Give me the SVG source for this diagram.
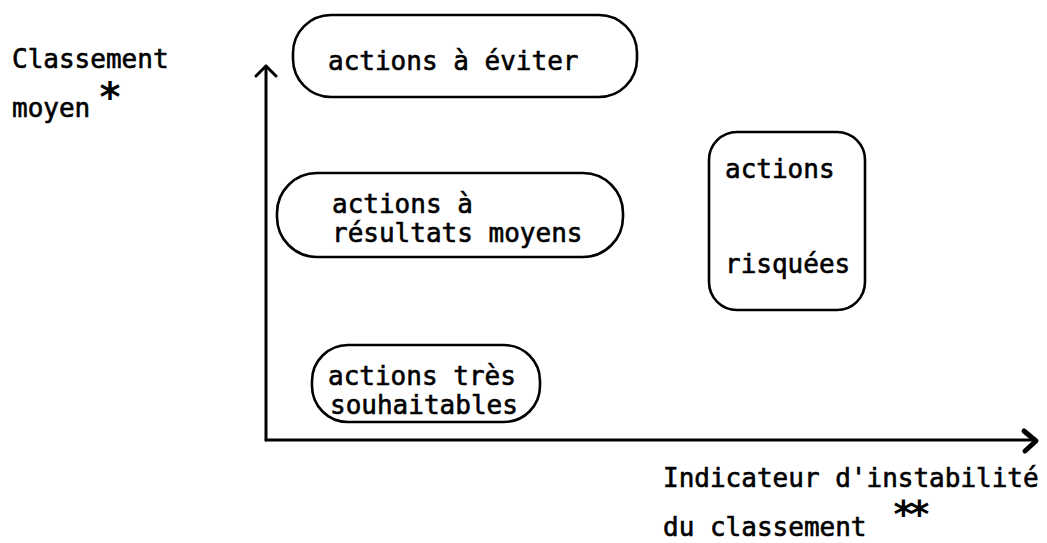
<svg xmlns="http://www.w3.org/2000/svg" width="1047" height="543" viewBox="0 0 1047 543">
  <style>
    .t { font-family: "DejaVu Sans Mono", "Liberation Mono", monospace; font-size: 26px; fill: #000; stroke: #000; stroke-width: 0.6; }
    .star { font-family: "DejaVu Sans Mono", "Liberation Mono", monospace; font-weight: bold; fill: #000; }
    .box { fill: none; stroke: #000; stroke-width: 2.6; }
    .axis { fill: none; stroke: #000; stroke-width: 3; stroke-linecap: round; stroke-linejoin: round; }
  </style>
  <rect width="1047" height="543" fill="#fff"/>

  <!-- axes -->
  <g id="connectors">
    <path class="axis" d="M266 440 V66"/>
    <path class="axis" d="M256 76 L266 66 L276 76"/>
    <path class="axis" d="M266 440 H1034"/>
    <path class="axis" style="stroke-width:5" d="M1024 431 L1036 441 L1025 451"/>
  </g>

  <!-- axis titles -->
  <g id="y-label">
    <text class="t" x="12" y="68">Classement</text>
    <text class="t" x="12" y="117">moyen</text>
    <text class="star" x="98" y="111" font-size="40">*</text>
  </g>
  <g id="x-label">
    <text class="t" x="663" y="487">Indicateur d'instabilité</text>
    <text class="t" x="663" y="536">du classement</text>
    <text class="star" x="892" y="527" font-size="38" letter-spacing="-7">**</text>
  </g>

  <!-- zones -->
  <g id="eviter">
    <rect class="box" x="293" y="15" width="344" height="82" rx="38"/>
    <text class="t" x="328" y="70">actions à éviter</text>
  </g>
  <g id="moyens">
    <rect class="box" x="277" y="173" width="346" height="84" rx="40"/>
    <text class="t" x="332" y="213">actions à</text>
    <text class="t" x="332" y="242">résultats moyens</text>
  </g>
  <g id="souhaitables">
    <rect class="box" x="312" y="345" width="228" height="77" rx="36"/>
    <text class="t" x="328" y="385">actions très</text>
    <text class="t" x="330" y="414">souhaitables</text>
  </g>
  <g id="risquees">
    <rect class="box" x="709" y="132" width="156" height="178" rx="28"/>
    <text class="t" x="725" y="178">actions</text>
    <text class="t" x="725" y="273">risquées</text>
  </g>
</svg>
